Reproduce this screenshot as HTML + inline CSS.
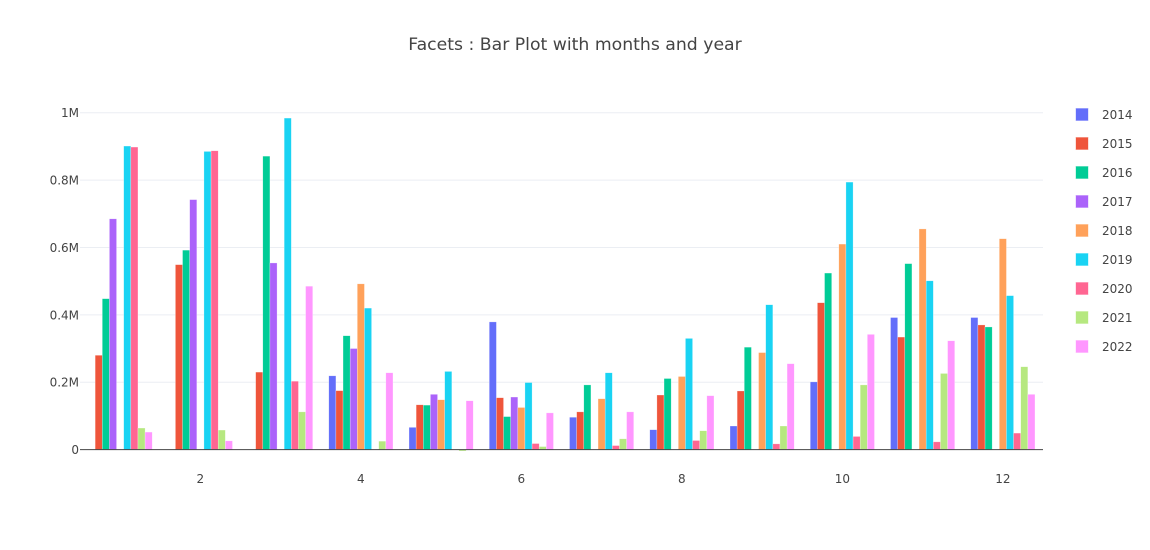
<!DOCTYPE html>
<html>
<head>
<meta charset="utf-8">
<title>Facets : Bar Plot with months and year</title>
<style>
html,body{margin:0;padding:0;background:#fff;}
svg{display:block;}
text{font-family:"DejaVu Sans","Liberation Sans",sans-serif;fill:#444;}
</style>
</head>
<body>
<svg id="chart" width="1150" height="550" viewBox="0 0 1150 550" xmlns="http://www.w3.org/2000/svg">
<text x="575" y="50" text-anchor="middle" style="font-size:17.25px">Facets : Bar Plot with months and year</text>
</svg>
<script>
const months = [1,2,3,4,5,6,7,8,9,10,11,12];
const years = ["2014","2015","2016","2017","2018","2019","2020","2021","2022"];
const colors = ["#636efa","#EF553B","#00cc96","#ab63fa","#FFA15A","#19d3f3","#FF6692","#B6E880","#FF97FF"];
const values2014 = [null,null,null,219000,66000,379000,96000,59000,70000,201000,392000,392000];
const values2015 = [280000,549000,230000,175000,133000,154000,112000,162000,174000,436000,334000,370000];
const values2016 = [448000,592000,871000,338000,132000,98000,192000,211000,304000,524000,552000,364000];
const values2017 = [685000,742000,554000,300000,164000,156000,null,null,null,null,null,null];
const values2018 = [null,null,null,492000,148000,125000,151000,217000,288000,610000,655000,626000];
const values2019 = [901000,885000,984000,420000,232000,199000,228000,330000,430000,794000,501000,457000];
const values2020 = [898000,887000,203000,null,null,18000,12000,27000,17000,39000,23000,49000];
const values2021 = [64000,58000,112000,25000,-4000,9000,32000,56000,70000,192000,226000,246000];
const values2022 = [52000,26000,485000,228000,145000,109000,112000,160000,255000,342000,323000,164000];
const seriesValues = [values2014,values2015,values2016,values2017,values2018,values2019,values2020,values2021,values2022];
const yTicks = [0,200000,400000,600000,800000,1000000];
const yTickLabels = ["0","0.2M","0.4M","0.6M","0.8M","1M"];
const xTicks = [2,4,6,8,10,12];
const xTickLabels = ["2","4","6","8","10","12"];

const svg = document.getElementById('chart');
const NS = 'http://www.w3.org/2000/svg';
const plotLeft = 80, plotRight = 1043, zeroY = 449.6, oneMY = 112.7;
const monthWidth = (plotRight - plotLeft) / 12;
const barWidth = monthWidth * 0.8 / years.length;

function xScale(m){ return plotLeft + (m - 0.5) * monthWidth; }
function yScale(v){ return zeroY - (v / 1000000) * (zeroY - oneMY); }

yTicks.forEach(function(t, i){
  if (t !== 0) {
    const g = document.createElementNS(NS, 'line');
    
    
    g.setAttribute('x1', plotLeft);
    g.setAttribute('x2', plotRight);
    g.setAttribute('y1', yScale(t));
    g.setAttribute('y2', yScale(t));
    g.setAttribute('stroke', '#ebeef3');
    g.setAttribute('stroke-width', '1');
    svg.appendChild(g);
  }
  const label = document.createElementNS(NS, 'text');
  
  
  label.setAttribute('x', plotLeft - 1);
  label.setAttribute('y', yScale(t) + 4.5);
  label.setAttribute('text-anchor', 'end');
  label.style.fontSize = '12px';
  label.textContent = yTickLabels[i];
  svg.appendChild(label);
});

xTicks.forEach(function(t, i){
  const label = document.createElementNS(NS, 'text');
  
  
  label.setAttribute('x', xScale(t));
  label.setAttribute('y', 483);
  label.setAttribute('text-anchor', 'middle');
  label.style.fontSize = '12px';
  label.textContent = xTickLabels[i];
  svg.appendChild(label);
});

seriesValues.forEach(function(series, s){
  series.forEach(function(v, i){
    if (v === null) return;
    const left = xScale(months[i]) - monthWidth * 0.4 + s * barWidth;
    const top = Math.min(yScale(v), yScale(0));
    const bar = document.createElementNS(NS, 'rect');
    
    
    bar.setAttribute('x', left);
    bar.setAttribute('y', top);
    bar.setAttribute('width', barWidth);
    bar.setAttribute('height', Math.abs(yScale(v) - yScale(0)));
    bar.setAttribute('fill', colors[s]);
    bar.setAttribute('stroke', '#ffffff');
    bar.setAttribute('stroke-opacity', '0.5');
    bar.setAttribute('stroke-width', '0.5');
    svg.appendChild(bar);
  });
});

const axis = document.createElementNS(NS, 'line');


axis.setAttribute('x1', plotLeft);
axis.setAttribute('x2', plotRight);
axis.setAttribute('y1', yScale(0));
axis.setAttribute('y2', yScale(0));
axis.setAttribute('stroke', '#444');
axis.setAttribute('stroke-width', '1');
svg.appendChild(axis);

years.forEach(function(y, i){
  const cy = 114.5 + i * 29;
  const sw = document.createElementNS(NS, 'rect');
  
  
  sw.setAttribute('x', 1076);
  sw.setAttribute('y', cy - 6);
  sw.setAttribute('width', 12);
  sw.setAttribute('height', 12);
  sw.setAttribute('fill', colors[i]);
  sw.setAttribute('stroke', colors[i]);
  sw.setAttribute('stroke-opacity', '0.35');
  sw.setAttribute('stroke-width', '1');
  svg.appendChild(sw);
  const t = document.createElementNS(NS, 'text');
  
  
  t.setAttribute('x', 1102);
  t.setAttribute('y', cy + 4.5);
  t.style.fontSize = '12px';
  t.textContent = y;
  svg.appendChild(t);
});
</script>
</body>
</html>
